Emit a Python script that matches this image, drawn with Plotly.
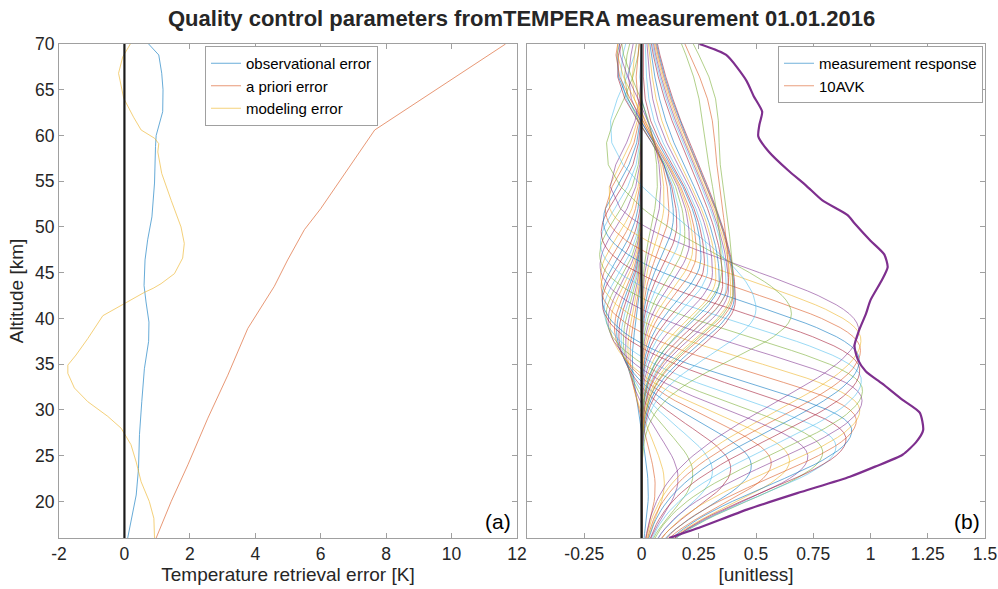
import numpy as np
import plotly.graph_objects as go

# ---------------- data: panel (a) error profiles ----------------
obs_alt = [16.0, 18.5, 20.7, 23.6, 27.3, 30.9, 34.5, 37.5, 39.6, 41.8, 43.6, 46.4,
           48.6, 51.1, 54.8, 58.8, 60.0, 62.6, 65.0, 66.8, 68.8, 70.0]
obs_err = [0.10, 0.24, 0.36, 0.43, 0.46, 0.53, 0.61, 0.74, 0.75, 0.66, 0.60, 0.63,
           0.71, 0.84, 0.92, 0.95, 0.97, 1.17, 1.18, 1.14, 1.05, 0.74]

apr_alt = [16.0, 20.0, 24.0, 29.1, 33.8, 38.9, 41.8, 43.5, 46.4, 49.7, 52.0, 55.85,
           58.95, 60.6, 70.0]
apr_err = [0.97, 1.43, 1.94, 2.55, 3.16, 3.77, 4.28, 4.58, 4.99, 5.50, 6.00, 6.73,
           7.34, 7.65, 11.65]

mod_alt = [16.0, 18.15, 20.0, 22.15, 24.3, 26.2, 28.0, 29.3, 30.9, 32.4, 34.0, 34.9,
           36.0, 37.8, 40.3, 41.65, 42.85, 43.3, 43.8, 44.9, 46.6, 48.2, 50.0, 52.9,
           55.85, 58.2, 59.1, 59.7, 60.6, 62.0, 64.05, 66.8, 68.6, 70.0]
mod_err = [0.92, 0.90, 0.76, 0.51, 0.36, 0.20, -0.10, -0.51, -1.12, -1.53, -1.73, -1.73,
           -1.48, -1.12, -0.66, 0.00, 0.61, 0.88, 1.12, 1.53, 1.78, 1.83, 1.73, 1.43,
           1.14, 1.02, 1.05, 0.92, 0.51, 0.28, -0.02, -0.18, -0.05, 0.18]

# ---------------- data: panel (b) measurement response ----------------
mr_alt = [16.0, 17.2, 19.1, 20.9, 22.7, 23.8, 25.1, 26.5, 27.8, 29.7, 31.1, 32.9, 34.2,
          35.5, 37.0, 38.7, 40.5, 42.0, 44.2, 45.6, 47.0, 48.5, 50.4, 51.3, 52.9, 54.5,
          56.2, 58.2, 59.9, 61.2, 62.6, 64.3, 66.0, 68.8, 70.0]
mr_val = [0.12, 0.26, 0.46, 0.68, 0.91, 1.02, 1.14, 1.20, 1.23, 1.215, 1.14, 1.05, 0.98,
          0.945, 0.93, 0.95, 0.98, 1.00, 1.05, 1.075, 1.06, 1.00, 0.93, 0.90, 0.79, 0.72,
          0.64, 0.557, 0.51, 0.515, 0.527, 0.49, 0.458, 0.37, 0.253]

# ---------------- data: panel (b) averaging kernel rows (shape parameters) ----------------
# peak altitude [km], peak value, lower / upper half-widths [km], negative lobe depth, lobe altitude, lobe width
avk_peak_alt = [21.0, 21.5, 22.0, 22.5, 23.0, 23.3, 23.6, 23.9, 24.2, 24.5, 24.9, 25.4, 26.0, 26.8,
                27.8, 28.9, 30.0, 31.1, 32.2, 33.3, 34.4, 35.5, 36.6, 37.7, 38.8,
                40.5, 41.0,
                42.0, 42.3, 42.6, 42.9, 43.2, 43.0, 43.5, 43.8, 44.1, 44.0, 44.5, 45.0, 45.0, 45.5,
                46.0, 46.6, 47.2, 47.8, 48.4, 49.0, 49.7, 50.4, 51.2, 52.0, 53.0, 54.0, 55.0]
avk_peak_val = [0.03, 0.06, 0.10, 0.16, 0.225, 0.31, 0.39, 0.48, 0.567, 0.647, 0.727, 0.792, 0.85, 0.894,
                0.92, 0.94, 0.955, 0.965, 0.967, 0.962, 0.955, 0.953, 0.958, 0.96, 0.95,
                0.655, 0.50,
                0.41, 0.405, 0.40, 0.39, 0.38, 0.40, 0.37, 0.355, 0.34, 0.38, 0.325, 0.31, 0.35, 0.29,
                0.275, 0.26, 0.24, 0.225, 0.21, 0.19, 0.17, 0.155, 0.14, 0.12, 0.10, 0.085, 0.07]
avk_low_w = [5.0, 5.2, 5.4, 5.6, 5.8, 6.0, 6.2, 6.4, 6.6, 6.8, 7.0, 7.3, 7.6, 8.0,
             8.5, 8.8, 9.1, 9.4, 9.7, 10.0, 10.3, 10.6, 10.9, 11.2, 11.5,
             7.0, 7.0,
             7.5, 7.4, 7.3, 7.2, 7.1, 7.5, 7.0, 6.9, 6.8, 7.5, 6.7, 6.6, 7.5, 6.5,
             6.5, 6.5, 6.5, 6.5, 6.5, 6.5, 6.5, 6.5, 6.5, 6.6, 6.7, 6.8, 7.0]
avk_up_w = [5.5, 5.6, 5.7, 5.8, 5.9, 6.0, 6.0, 6.1, 6.2, 6.3, 6.4, 6.5, 6.6, 6.8,
            6.5, 6.6, 6.8, 7.0, 7.2, 7.4, 7.6, 7.8, 8.0, 8.2, 8.5,
            8.0, 10.0,
            21.0, 20.5, 20.0, 19.5, 19.0, 30.0, 18.5, 18.0, 17.5, 28.0, 17.0, 16.5, 26.0, 16.0,
            15.5, 15.0, 14.5, 14.0, 13.5, 13.0, 12.5, 12.0, 12.0, 12.0, 11.5, 11.0, 10.5]
avk_lobe = [0.04, 0.05, 0.06, 0.07, 0.08, 0.09, 0.10, 0.11, 0.12, 0.14, 0.15, 0.16, 0.17, 0.18,
            0.18, 0.185, 0.19, 0.195, 0.20, 0.20, 0.20, 0.195, 0.19, 0.185, 0.18,
            0.16, 0.15,
            0.0, 0.0, 0.0, 0.0, 0.0, -0.08, 0.0, 0.0, 0.02, -0.06, 0.03, 0.04, -0.05, 0.05,
            0.06, 0.07, 0.08, 0.09, 0.10, 0.11, 0.12, 0.13, 0.13, 0.13, 0.12, 0.11, 0.10]
avk_lobe_alt = [35.5, 36.0, 36.5, 37.0, 37.5, 37.8, 38.1, 38.4, 38.7, 39.0, 39.4, 39.9, 40.5, 41.3,
                41.8, 42.9, 44.0, 45.1, 46.2, 47.3, 48.4, 49.5, 50.6, 51.7, 52.8,
                58.0, 60.0,
                60.0, 60.0, 60.0, 60.0, 60.0, 65.0, 60.0, 60.0, 60.0, 64.0, 60.5, 61.0, 66.0, 61.5,
                62.0, 62.6, 63.2, 63.8, 64.4, 65.0, 65.7, 66.4, 67.2, 68.0, 69.0, 70.0, 71.0]
avk_lobe_w = [6.0] * 14 + [6.5] * 11 + [7.0, 7.0] + [7.0] * 27

# tick labels
x1_ticks = [-2, 0, 2, 4, 6, 8, 10, 12]
x1_labels = ['-2', '0', '2', '4', '6', '8', '10', '12']
x2_ticks = [-0.25, 0, 0.25, 0.5, 0.75, 1, 1.25, 1.5]
x2_labels = ['-0.25', '0', '0.25', '0.5', '0.75', '1', '1.25', '1.5']
y_ticks = [20, 25, 30, 35, 40, 45, 50, 55, 60, 65, 70]

# MATLAB default colour order
matlab_colors = ['#0072BD', '#D95319', '#EDB120', '#7E2F8E', '#77AC30', '#4DBEEE', '#A2142F']

# altitude grid of the kernels (fine in the sensitive range, coarse above)
z_grid = np.concatenate([np.arange(14.0, 52.0, 0.5), np.arange(52.0, 73.0, 2.4)])


def kernel_row(z, p, a, wl, wu, b, q, s):
    w = np.where(z < p, wl, wu)
    return a * np.exp(-((z - p) / w) ** 2) - b * np.exp(-((z - q) / s) ** 2)


fig = go.Figure()

# ---- panel (a)
thin = 0.85
fig.add_trace(go.Scatter(x=obs_err, y=obs_alt, mode='lines', name='observational error',
                         line=dict(color=matlab_colors[0], width=thin), opacity=0.7,
                         xaxis='x', yaxis='y', legend='legend'))
fig.add_trace(go.Scatter(x=apr_err, y=apr_alt, mode='lines', name='a priori error',
                         line=dict(color=matlab_colors[1], width=thin), opacity=0.7,
                         xaxis='x', yaxis='y', legend='legend'))
fig.add_trace(go.Scatter(x=mod_err, y=mod_alt, mode='lines', name='modeling error',
                         line=dict(color=matlab_colors[2], width=thin), opacity=0.7,
                         xaxis='x', yaxis='y', legend='legend'))

# ---- panel (b): averaging kernels
legend_names = ['measurement response', '10AVK']
for i in range(len(avk_peak_alt)):
    xv = kernel_row(z_grid, avk_peak_alt[i], avk_peak_val[i], avk_low_w[i], avk_up_w[i],
                    avk_lobe[i], avk_lobe_alt[i], avk_lobe_w[i])
    fig.add_trace(go.Scatter(
        x=xv, y=z_grid, mode='lines',
        name=legend_names[i] if i < 2 else 'AVK %d' % i,
        showlegend=i < 2, legend='legend2',
        line=dict(color=matlab_colors[i % 7], width=0.75), opacity=0.75,
        xaxis='x2', yaxis='y2', hoverinfo='skip'))

fig.add_trace(go.Scatter(x=mr_val, y=mr_alt, mode='lines', showlegend=False,
                         line=dict(color='#7E2F8E', width=2.2, shape='spline', smoothing=0.6),
                         xaxis='x2', yaxis='y2'))

# zero lines on top
for xr, yr in (('x', 'y domain'), ('x2', 'y2 domain')):
    fig.add_shape(type='line', xref=xr, yref=yr, x0=0, x1=0, y0=0, y1=1,
                  line=dict(color='#1a1a1a', width=2.2), layer='above')

W, H = 998, 589
font_family = 'Liberation Sans, Arial, sans-serif'
txt = '#262626'
axcol = '#a0a0a0'
ydom = [(H - 538) / H, (H - 44) / H]

common_axis = dict(showline=True, linecolor=axcol, linewidth=1, mirror='ticks',
                   ticks='inside', ticklen=5, tickcolor=axcol, tickwidth=1,
                   showgrid=False, zeroline=False, automargin=False,
                   tickfont=dict(family=font_family, size=17.5, color=txt))

fig.update_layout(
    width=W, height=H,
    margin=dict(l=0, r=0, t=0, b=0, autoexpand=False),
    paper_bgcolor='white', plot_bgcolor='white',
    font=dict(family=font_family, color=txt),
    xaxis=dict(common_axis, domain=[59 / W, 517 / W], range=[-2, 12], anchor='y',
               tickvals=x1_ticks, ticktext=x1_labels,
               title=dict(text='Temperature retrieval error [K]', standoff=0,
                          font=dict(family=font_family, size=19, color=txt))),
    yaxis=dict(common_axis, domain=ydom, range=[16, 70], anchor='x',
               tickvals=y_ticks,
               title=dict(text='Altitude [km]', standoff=6,
                          font=dict(family=font_family, size=19, color=txt))),
    xaxis2=dict(common_axis, domain=[527 / W, 985 / W], range=[-0.5, 1.5], anchor='y2',
                tickvals=x2_ticks, ticktext=x2_labels,
                title=dict(text='[unitless]', standoff=0,
                           font=dict(family=font_family, size=19, color=txt))),
    yaxis2=dict(common_axis, domain=ydom, range=[16, 70], anchor='x2',
                tickvals=y_ticks, showticklabels=False),
    legend=dict(x=205 / W, y=1 - 46 / H, xanchor='left', yanchor='top',
                bgcolor='white', bordercolor='#a0a0a0', borderwidth=1,
                font=dict(family=font_family, size=15, color='black'),
                itemwidth=30, tracegroupgap=0),
    legend2=dict(x=778 / W, y=1 - 46 / H, xanchor='left', yanchor='top',
                 bgcolor='white', bordercolor='#a0a0a0', borderwidth=1,
                 font=dict(family=font_family, size=15, color='black'),
                 itemwidth=30, tracegroupgap=0),
    showlegend=True,
    annotations=[
        dict(text='<b>Quality control parameters fromTEMPERA measurement 01.01.2016</b>',
             x=521 / W, y=1 - 19 / H, xref='paper', yref='paper', xanchor='center',
             yanchor='middle', showarrow=False,
             font=dict(family=font_family, size=22, color=txt)),
        dict(text='(a)', x=513 / W, y=1 - 535 / H, xref='paper', yref='paper',
             xanchor='right', yanchor='bottom', showarrow=False,
             font=dict(family=font_family, size=21, color='black')),
        dict(text='(b)', x=982 / W, y=1 - 535 / H, xref='paper', yref='paper',
             xanchor='right', yanchor='bottom', showarrow=False,
             font=dict(family=font_family, size=21, color='black')),
    ],
)

fig.write_html('out.html')
